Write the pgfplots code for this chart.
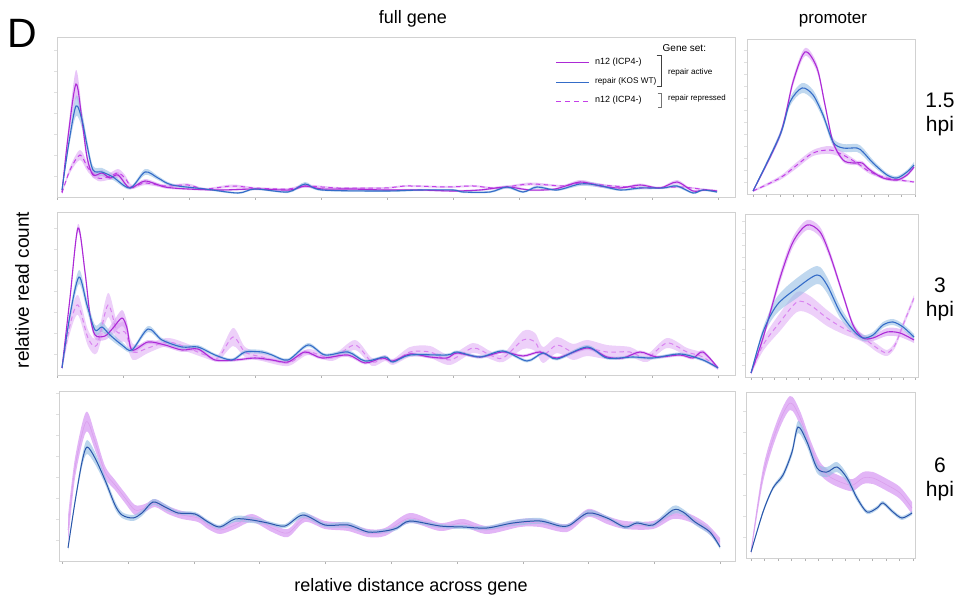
\documentclass[border=0pt]{standalone}
\usepackage{pgfplots}
\pgfplotsset{compat=1.18}
\usepackage{pgfplotstable}
\usepgfplotslibrary{fillbetween}
\usepackage{fontspec}
\setmainfont{Liberation Sans}

\definecolor{vio}{RGB}{172,42,214}
\definecolor{viod}{RGB}{196,64,232}
\definecolor{blu}{RGB}{52,108,200}
\definecolor{bludark}{RGB}{42,86,170}
\definecolor{vioband}{RGB}{214,150,242}
\definecolor{bluband}{RGB}{150,190,228}

% ---------- full gene, 1.5 hpi ----------
\pgfplotstableread{
x y w
62 5 1
68 60 6
76 113 14
82 77 8
87 40 4
93 22 3
102 24 3
110 19 2
118 22 3
130 9 1.5
145 16 2
165 10 1.5
188 8 1
220 7 1
255 8 1
290 7 1
305 11 1.5
322 8 1
350 8 1
385 7 1
420 7 1
453 6 1
480 7 1
507 10 1.5
530 7 1
555 8 1
580 15 2
600 11 1.5
620 9 1
640 12 1.5
660 9 1
677 15 2
693 6 1
705 7 1
717 6 1
}\LaA
\pgfplotstableread{
x y w
62 7 1
69 55 5
76 91 10
82 77 8
87 52 6
93 27 4
102 25 4
113 20 3
130 9 1.5
145 25 3
158 19 2
172 12 1.5
205 8 1
238 4 1
255 8 1
288 5 1
305 13 2
322 7 1
385 6 1
420 7 1
453 7 1
463 5 1
490 5 1
507 10 1.5
523 5 1
537 10 1.5
557 7 1
580 13 2
597 12 2
620 7 1
640 9 1.5
663 9 1
677 11 1.5
693 4 1
703 7 1
717 5 1
}\LaB
\pgfplotstableread{
x y w
62 4 1
70 27 3
80 42 5
88 29 4
98 19 3
108 20 3
118 24 4
125 19 3
132 10 2
145 14 2
165 11 1.5
188 12 1.5
205 8 1
232 11 1.5
255 9 1
288 8 1
305 11 1.5
338 9 1
385 9 1
407 11 1
447 10 1
473 11 1
497 9 1
530 13 1.5
563 11 1
580 14 1.5
613 11 1
647 9 1
680 10 1
700 8 1
717 6 1
}\LaC
% ---------- full gene, 3 hpi ----------
\pgfplotstableread{
x y w
62 7 1
70 77 4
78 147 4
85 103 4
90 60 4
95 40 4
105 39 4
113 47 6
122 57 8
127 47 6
132 25 3
148 33 2
165 30 2
182 25 2
198 26 2
215 15 1.5
235 15 1.5
255 17 1.5
272 15 1.5
288 13 1.5
305 23 2
322 17 1.5
348 20 2
365 12 1.5
382 17 1.5
393 14 1.5
410 21 1.5
430 18 1.5
447 17 1.5
457 22 1.5
480 18 1.5
503 23 1.5
523 19 1.5
540 23 1.5
557 17 1.5
587 27 2
607 18 1.5
623 17 1.5
640 23 1.5
657 18 1.5
680 20 1.5
693 17 1.5
703 23 2
718 7 1
}\LbA
\pgfplotstableread{
x y w
62 7 1
70 60 5
79 98 7
87 70 6
95 45 5
102 48 5
110 40 4
122 30 3
132 25 2
148 46 3
162 35 2
182 28 2
198 28 2
215 20 1.5
232 15 1.5
245 23 2
262 23 2
272 20 1.5
288 15 1.5
308 30 2
325 20 1.5
348 23 2
365 14 1.5
385 18 1.5
393 13 1.5
410 20 1.5
447 20 1.5
457 23 1.5
480 18 1.5
503 24 1.5
527 14 1.5
543 22 1.5
557 16 1.5
587 28 2
607 17 1.5
633 18 1.5
653 17 1.5
680 21 1.5
703 15 1.5
718 7 1
}\LbB
\pgfplotstableread{
x y w
62 7 2
70 50 8
78 70 10
88 37 8
97 30 8
108 70 12
117 43 10
125 43 10
133 23 8
148 27 5
168 33 4
188 27 4
205 20 3
218 17 3
233 38 9
245 23 5
262 18 4
288 12 3
308 23 3
332 17 3
355 30 5
372 13 4
385 17 3
393 13 3
410 23 5
430 23 6
450 15 5
473 27 5
490 20 4
503 17 4
523 35 9
535 33 9
543 20 8
557 30 8
573 23 8
587 27 8
607 23 7
630 23 5
647 17 4
667 32 5
687 23 4
703 18 4
718 7 2
}\LbC
% ---------- full gene, 6 hpi ----------
\pgfplotstableread{
x y w
68 31 14
75 93 10
86 139 10
95 119 8
105 89 6
115 76 5
125 63 5
135 51 5
145 53 4
155 58 4
168 51 4
182 46 4
198 43 4
208 36 4
220 31 4
235 36 4
252 43 4
272 33 4
288 28 4
305 43 4
325 36 4
348 34 4
368 28 4
385 29 4
410 43 5
440 34 4
463 38 4
487 31 4
520 38 4
540 38 4
567 33 4
588 48 4
607 41 4
625 36 4
653 36 4
673 46 4
690 43 4
707 33 4
720 19 4
}\LcA
\pgfplotstableread{
x y w
68 13 2
75 59 3
82 99 5
87 114 7
95 103 6
105 81 4
115 56 4
122 46 3
133 43 3
142 48 3
153 59 3
165 54 3
178 48 2
195 47 2
208 39 2
220 34 2
235 42 3
252 41 3
268 38 2
285 35 2
303 46 3
325 36 2
348 36 3
368 29 2
385 30 2
397 33 2
410 40 2
440 35 2
463 34 2
487 33 2
513 38 3
540 40 3
560 35 2
570 36 2
588 48 3
607 43 2
625 34 2
637 38 2
653 36 2
673 51 4
683 49 3
695 39 3
710 29 3
720 14 2
}\LcB
% ---------- promoter, 1.5 hpi ----------
\pgfplotstableread{
x y w
753 3 1
780 59 3
793 112 4
805 142 4
817 126 4
825 89 3
833 52 2
843 34 2
853 31 2
862 31 2
870 24 2
883 16 1.5
897 14 1.5
907 19 1.5
914 27 2
}\RaA
\pgfplotstableread{
x y w
753 3 1
780 59 3
790 92 4
802 106 5
813 99 5
823 79 4
833 52 4
843 46 4
857 46 4
863 42 4
873 31 3
887 19 2
897 16 2
907 22 2
914 29 3
}\RaB
\pgfplotstableread{
x y w
753 3 1
780 16 2
797 29 3
813 41 3
830 44 4
843 39 3
857 31 2
870 22 2
887 16 1.5
914 12 1
}\RaC
% ---------- promoter, 3 hpi ----------
\pgfplotstableread{
x y w
751 4 1
763 39 3
780 99 5
793 135 5
807 152 5
820 145 5
830 122 4
843 82 3
853 52 3
863 39 3
873 39 3
887 45 4
900 44 4
914 37 3
}\RbA
\pgfplotstableread{
x y w
751 4 1
763 45 4
777 72 8
797 89 10
817 102 9
827 92 8
840 65 6
853 47 4
863 39 3
873 42 3
883 52 3
893 55 3
903 50 3
914 40 3
}\RbB
\pgfplotstableread{
x y w
751 4 2
763 32 6
780 55 9
797 75 10
810 72 9
827 59 8
843 49 6
863 39 4
877 29 4
887 24 3
895 32 3
903 52 3
914 79 3
}\RbC
% ---------- promoter, 6 hpi ----------
\pgfplotstableread{
x y w
751 6 3
763 83 7
777 130 7
790 155 7
800 140 7
810 113 6
820 90 6
830 81 6
843 75 6
853 73 6
863 80 6
873 80 6
887 73 6
900 65 6
912 50 6
}\RcA
\pgfplotstableread{
x y w
751 6 1
763 46 2
773 70 2
783 83 3
792 106 4
798 131 6
807 116 5
817 90 5
827 86 5
837 91 5
847 80 4
857 60 3
867 46 2
877 50 2
883 55 2
893 46 2
902 40 2
912 45 2
}\RcB

\newcommand{\band}[4]{%
  \addplot[draw=none, smooth, name path=#4u, forget plot] table[x=x, y expr=\thisrow{y}+\thisrow{w}] {#1};
  \addplot[draw=none, smooth, name path=#4l, forget plot] table[x=x, y expr=\thisrow{y}-\thisrow{w}] {#1};
  \addplot[fill=#2, fill opacity=#3, draw=none, forget plot] fill between[of=#4u and #4l];
}

\pgfplotsset{
  panel/.style={
    scale only axis, anchor=south west,
    axis line style={draw=black!18, line width=0.6pt},
    xtick pos=bottom, ytick pos=left, tick align=outside,
    major tick length=3pt,
    xtick style={draw=black!30, line width=0.5pt},
    ytick style={draw=black!12, line width=0.4pt},
    xticklabels={}, yticklabels={}, ymin=0,
  },
  sv/.style={vio, line width=1.1pt, smooth},
  sb/.style={blu, line width=1.1pt, smooth},
  sd/.style={viod, line width=1.0pt, smooth, dash pattern=on 4.5pt off 3.5pt},
}

\begin{document}
\begin{tikzpicture}

% ===== full gene 1.5 hpi =====
\begin{axis}[panel, at={(57pt,403pt)}, width=678pt, height=160pt,
  xmin=57, xmax=735, ymax=160,
  xtick={57,123,189,255,321,387,453,519,585,652,718}, ytick={21,42,...,160}]
\band{\LaA}{vioband}{0.55}{a}
\band{\LaB}{bluband}{0.6}{b}
\band{\LaC}{vioband}{0.5}{c}
\addplot[sd] table[x=x,y=y] {\LaC};
\addplot[sv] table[x=x,y=y] {\LaA};
\addplot[sb] table[x=x,y=y] {\LaB};
\end{axis}

% ===== full gene 3 hpi =====
\begin{axis}[panel, at={(57pt,225pt)}, width=678pt, height=163pt,
  xmin=57, xmax=735, ymax=163,
  xtick={57,123,189,255,321,387,453,519,585,652,718}, ytick={21,42,...,163}]
\band{\LbC}{vioband}{0.45}{c}
\band{\LbA}{vioband}{0.55}{a}
\band{\LbB}{bluband}{0.6}{b}
\addplot[sd, viod!65] table[x=x,y=y] {\LbC};
\addplot[sv] table[x=x,y=y] {\LbA};
\addplot[sb] table[x=x,y=y] {\LbB};
\end{axis}

% ===== full gene 6 hpi =====
\begin{axis}[panel, at={(59pt,39pt)}, width=676pt, height=170pt,
  xmin=59, xmax=735, ymax=170,
  xtick={62,128,194,259,325,391,457,523,588,654,720}, ytick={21,42,...,170}]
\band{\LcA}{vioband}{0.7}{a}
\band{\LcB}{bluband}{0.65}{b}
\addplot[vio!45, line width=0.6pt, smooth] table[x=x,y=y] {\LcA};
\addplot[bludark, line width=1.0pt, smooth] table[x=x,y=y] {\LcB};
\end{axis}

% ===== promoter 1.5 hpi =====
\begin{axis}[panel, at={(747pt,406pt)}, width=168pt, height=155pt,
  xmin=747, xmax=915, ymax=155,
  xtick={753,766.5,780,793.5,807,820.5,834,847.5,861,874.5,888,901.5,915}, ytick={12,24,...,155}]
\band{\RaA}{vioband}{0.55}{a}
\band{\RaB}{bluband}{0.6}{b}
\band{\RaC}{vioband}{0.5}{c}
\addplot[sd] table[x=x,y=y] {\RaC};
\addplot[sv] table[x=x,y=y] {\RaA};
\addplot[sb] table[x=x,y=y] {\RaB};
\end{axis}

% ===== promoter 3 hpi =====
\begin{axis}[panel, at={(745pt,223pt)}, width=173pt, height=163pt,
  xmin=745, xmax=918, ymax=163,
  xtick={751,762.7,774.4,786.1,797.8,809.5,821.2,832.9,844.6,856.3,868,879.7,891.4,903.1,914.8}, ytick={12,24,...,163}]
\band{\RbC}{vioband}{0.45}{c}
\band{\RbA}{vioband}{0.55}{a}
\band{\RbB}{bluband}{0.6}{b}
\addplot[sd, viod!65] table[x=x,y=y] {\RbC};
\addplot[sv] table[x=x,y=y] {\RbA};
\addplot[sb] table[x=x,y=y] {\RbB};
\end{axis}

% ===== promoter 6 hpi =====
\begin{axis}[panel, at={(746pt,42pt)}, width=169pt, height=166pt,
  xmin=746, xmax=915, ymax=166,
  xtick={751,764.5,778,791.5,805,818.5,832,845.5,859,872.5,886,899.5,913}, ytick={21,42,...,166}]
\band{\RcA}{vioband}{0.7}{a}
\band{\RcB}{bluband}{0.65}{b}
\addplot[vio!45, line width=0.6pt, smooth] table[x=x,y=y] {\RcA};
\addplot[bludark, line width=1.0pt, smooth] table[x=x,y=y] {\RcB};
\end{axis}

% ===== legend =====
\draw[vio, line width=1.1pt] (556pt,537.3pt) -- (589pt,537.3pt);
\draw[blu, line width=1.1pt] (556pt,517.7pt) -- (589pt,517.7pt);
\draw[viod, line width=1.1pt, dash pattern=on 5pt off 4pt] (556pt,498.3pt) -- (590pt,498.3pt);
\node[anchor=west, font=\fontsize{9}{9}\selectfont, inner sep=0] at (595pt,538pt) {n12 (ICP4-)};
\node[anchor=west, font=\fontsize{8.2}{8.2}\selectfont, inner sep=0] at (595pt,519pt) {repair (KOS WT)};
\node[anchor=west, font=\fontsize{9}{9}\selectfont, inner sep=0] at (595pt,500pt) {n12 (ICP4-)};
\node[anchor=base west, font=\fontsize{10}{10}\selectfont, inner sep=0] at (662.5pt,548.5pt) {Gene set:};
\draw[black!75, line width=0.6pt] (656.5pt,545pt) -- (661.5pt,545pt) -- (661.5pt,513.3pt) -- (656.5pt,513.3pt);
\draw[black!55, line width=0.5pt] (657.5pt,507pt) -- (661.5pt,507pt) -- (661.5pt,492.3pt) -- (657.5pt,492.3pt);
\node[anchor=west, font=\fontsize{8.1}{8.1}\selectfont, inner sep=0] at (668pt,527.3pt) {repair active};
\node[anchor=west, font=\fontsize{7.9}{7.9}\selectfont, inner sep=0] at (668pt,501.3pt) {repair repressed};

% ===== titles and labels =====
\node[anchor=base west, font=\fontsize{41}{41}\selectfont, inner sep=0] at (7pt,552pt) {D};
\node[anchor=base, font=\fontsize{18}{18}\selectfont, inner sep=0] at (413pt,576pt) {full gene};
\node[anchor=base, font=\fontsize{17}{17}\selectfont, inner sep=0] at (833pt,576pt) {promoter};
\node[rotate=90, font=\fontsize{19}{19}\selectfont, inner sep=0] at (22pt,310pt) {relative read count};
\node[anchor=base, font=\fontsize{18}{18}\selectfont, inner sep=0] at (411pt,9pt) {relative distance across gene};
\node[anchor=base, font=\fontsize{21}{21}\selectfont, inner sep=0] at (940pt,492pt) {1.5};
\node[anchor=base, font=\fontsize{21}{21}\selectfont, inner sep=0] at (940pt,468pt) {hpi};
\node[anchor=base, font=\fontsize{21}{21}\selectfont, inner sep=0] at (940pt,307pt) {3};
\node[anchor=base, font=\fontsize{21}{21}\selectfont, inner sep=0] at (940pt,283pt) {hpi};
\node[anchor=base, font=\fontsize{21}{21}\selectfont, inner sep=0] at (940pt,127pt) {6};
\node[anchor=base, font=\fontsize{21}{21}\selectfont, inner sep=0] at (940pt,103pt) {hpi};

\pgfresetboundingbox
\path (0pt,0pt) rectangle (956pt,600pt);
\end{tikzpicture}
\end{document}
